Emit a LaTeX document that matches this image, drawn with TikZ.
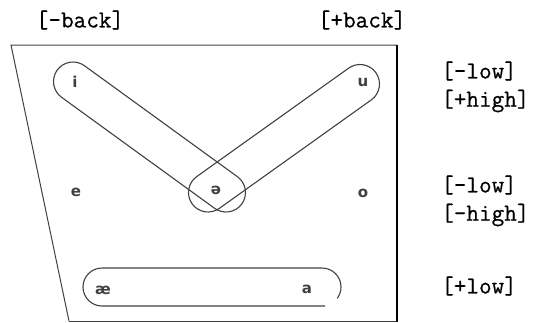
\documentclass[tikz,border=0pt]{standalone}
\usepackage{fontspec}
\newfontfamily\labfont[FakeBold=0.6]{Latin Modern Mono}
\newfontfamily\vowfont{DejaVu Sans}
\usetikzlibrary{calc}
\tikzset{
  feat/.style={font=\labfont\fontsize{24.5}{27}\selectfont, inner sep=0pt},
  vow/.style={font=\vowfont\bfseries\fontsize{15}{18}\selectfont, inner sep=0pt, text=black!75},
  capsule/.style={draw=black!75, line width=1.1pt},
  frame/.style={draw=black!75, line width=1pt},
}
\newcommand{\capsulepath}[3]{%
  \draw[capsule] let \p1=($(#2)-(#1)$), \n1={atan2(\y1,\x1)} in
    ($(#1)+(\n1+90:#3)$) -- ($(#2)+(\n1+90:#3)$)
    arc[start angle=\n1+90, end angle=\n1-90, radius=#3]
    -- ($(#1)+(\n1-90:#3)$)
    arc[start angle=\n1-90, end angle=\n1-270, radius=#3] -- cycle;}
\begin{document}
\begin{tikzpicture}[x=1pt,y=-1pt]
\useasboundingbox (0,0) rectangle (543,322);
% frame
\coordinate (tl) at (11,45);
\coordinate (tr) at (397,45);
\coordinate (br) at (397,322);
\coordinate (bl) at (69,321);
\coordinate (bb) at (397,321);
\draw[frame] (bl) -- (tl) -- (tr);
\draw[draw=black, line width=1.6pt] (tr) -- (br);
\draw[frame] (bl) -- (bb);
% feature labels
\node[feat] (mback) at (80,20) {[-back]};
\node[feat] (pback) at (362,20) {[+back]};
\node[feat, anchor=west] (l1) at (441,71) {[-low]};
\node[feat, anchor=west] (h1) at (441,101) {[+high]};
\node[feat, anchor=west] (l2) at (441,185) {[-low]};
\node[feat, anchor=west] (h2) at (441,215) {[-high]};
\node[feat, anchor=west] (l3) at (441,286) {[+low]};
% vowels
\node[vow] (i) at (75,82) {i};
\node[vow] (u) at (363,83) {u};
\node[vow] (e) at (76,192) {e};
\node[vow] (o) at (363,193) {o};
\node[vow] (schwa) at (216,190) {ə};
\node[vow] (ae) at (103,290) {æ};
\node[vow] (a) at (307,289) {a};
% capsule centres
\coordinate (ci) at (73,81.5);
\coordinate (c1) at (226,192.5);
\coordinate (cu) at (360,84);
\coordinate (c2) at (208,192.5);
\capsulepath{ci}{c1}{19.5pt}
\capsulepath{cu}{c2}{19.5pt}
% low capsule
\draw[capsule] (325,306) -- (102,306)
  arc[start angle=270, end angle=90, radius=19pt] -- (322,268)
  arc[start angle=90, end angle=-37, radius=19pt];
\end{tikzpicture}
\end{document}
